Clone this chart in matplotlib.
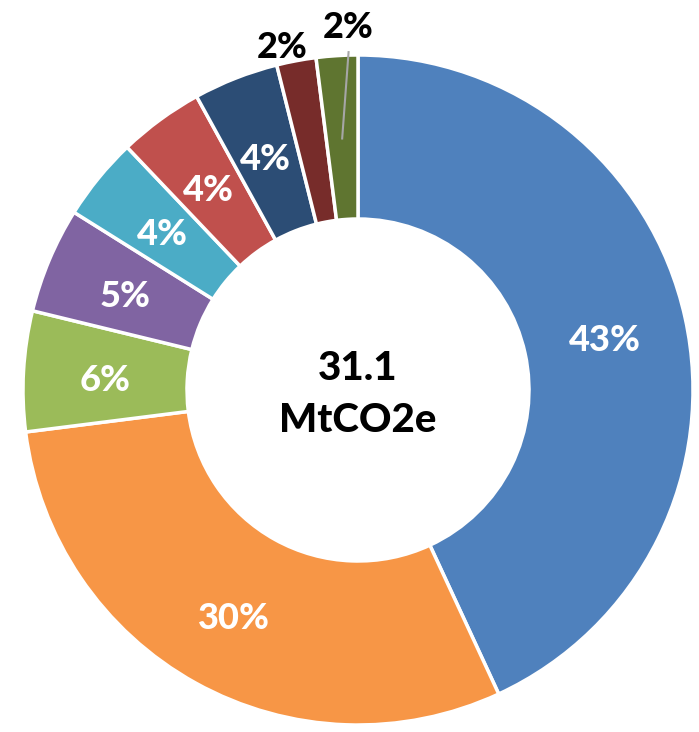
import matplotlib.pyplot as plt
import numpy as np

shares = [43.1, 29.9, 5.8, 5.1, 4.0, 4.1, 4.1, 1.9, 2.0]
labels = ["43%", "30%", "6%", "5%", "4%", "4%", "4%", "2%", "2%"]
colors = ["#4F81BD", "#F79646", "#9BBB59", "#8064A2", "#4BACC6",
          "#C0504D", "#2C4D75", "#772C2A", "#5F7530"]
total_text = "31.1\nMtCO2e"

plt.rcParams['font.family'] = ['Lato', 'DejaVu Sans']

W, H = 699, 732
fig = plt.figure(figsize=(W / 100, H / 100), dpi=100)
ax = fig.add_axes([0, 0, 1, 1])

cx, cy = 358, H - 390
r_out, r_in = 335, 171

wedges, _ = ax.pie(shares, colors=colors, startangle=90, counterclock=False,
                   center=(cx, cy), radius=r_out, frame=True,
                   wedgeprops=dict(width=r_out - r_in, edgecolor='white', linewidth=2.5))
ax.set_xlim(0, W)
ax.set_ylim(0, H)
ax.set_aspect('equal')
ax.axis('off')

# label radius, angle shift (deg), colour
label_r = [253, 255, 253, 253, 253, 253, 253, 356, 368]
label_shift = [0, 0, 0, 0, 0, 0, 0, 1.6, -2]
label_col = ["white"] * 7 + ["black", "black"]

for i, w in enumerate(wedges):
    mid = np.deg2rad((w.theta1 + w.theta2) / 2 + label_shift[i])
    x = cx + label_r[i] * np.cos(mid)
    y = cy + label_r[i] * np.sin(mid) - 5
    ax.text(x, y, labels[i], ha='center', va='center', fontsize=26,
            fontweight='black', color=label_col[i])

# leader line for the last small slice
w = wedges[-1]
mid = np.deg2rad((w.theta1 + w.theta2) / 2)
a2 = np.deg2rad((w.theta1 + w.theta2) / 2 - 2)
ax.plot([cx + 252 * np.cos(mid), cx + 338 * np.cos(a2)],
        [cy + 252 * np.sin(mid), cy + 338 * np.sin(a2)],
        color='#A6A6A6', lw=1.5)

ax.text(cx, cy - 5, total_text, ha='center', va='center', fontsize=29,
        fontweight='black', color='black', linespacing=1.5)

fig.savefig("out.png", dpi=100)
